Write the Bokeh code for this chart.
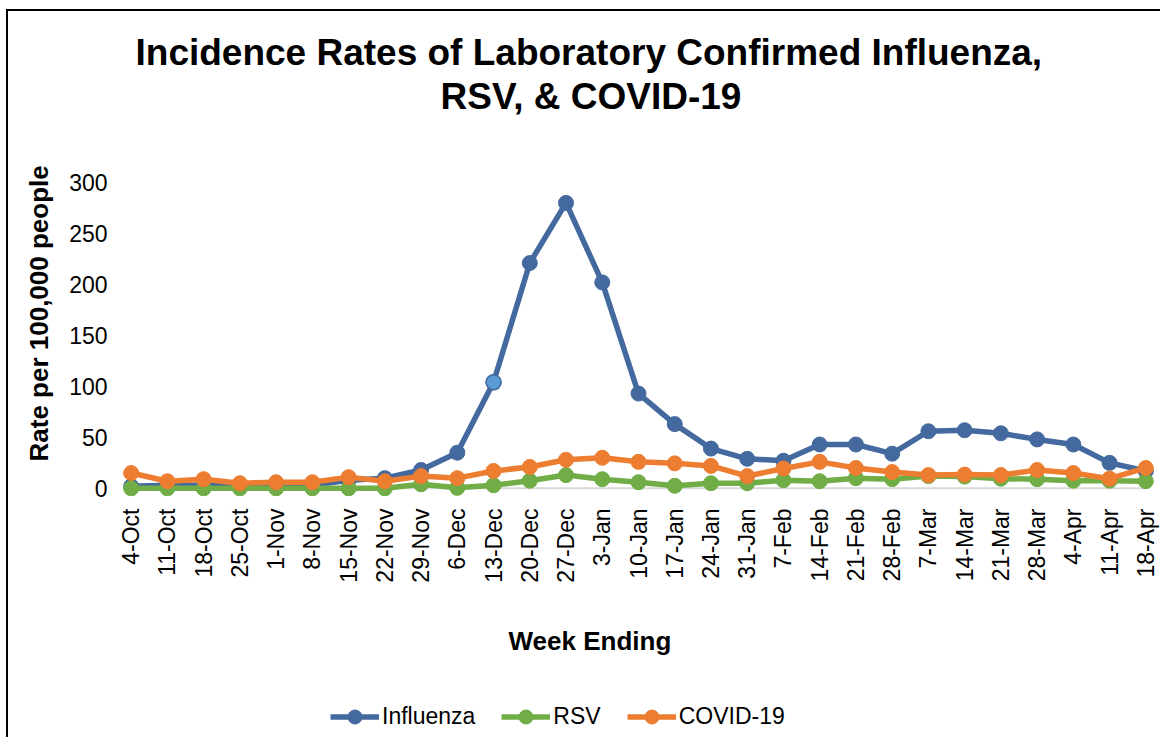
import math
from bokeh.plotting import figure
from bokeh.layouts import column
from bokeh.models import Range1d, FixedTicker, Title, Legend, LegendItem
from bokeh.embed import file_html
from bokeh.resources import INLINE

weeks = ["4-Oct", "11-Oct", "18-Oct", "25-Oct", "1-Nov", "8-Nov", "15-Nov", "22-Nov",
         "29-Nov", "6-Dec", "13-Dec", "20-Dec", "27-Dec", "3-Jan", "10-Jan", "17-Jan",
         "24-Jan", "31-Jan", "7-Feb", "14-Feb", "21-Feb", "28-Feb", "7-Mar", "14-Mar",
         "21-Mar", "28-Mar", "4-Apr", "11-Apr", "18-Apr"]
influenza = [2, 3, 3, 2, 3, 3, 8, 10, 18, 35, 104, 221, 280, 202, 93, 63, 39, 29, 27,
             43, 43, 34, 56, 57, 54, 48, 43, 25, 17]
rsv = [0, 0, 0, 0, 0, 0, 0, 0, 4, 0.5, 3, 7.5, 13, 9, 6, 2.5, 5, 5, 8, 7, 10, 9, 12,
       11.5, 9.5, 9, 7.5, 7.5, 7]
covid = [15, 7, 9, 5, 6, 6, 11, 7, 12, 10, 17, 21, 28, 30, 26, 24.5, 22, 12, 19.5, 26,
         20, 16, 13, 13.5, 13, 18, 15, 9.5, 20]
y_ticks = [0, 50, 100, 150, 200, 250, 300]
highlight_week = "13-Dec"

series_names = ["Influenza", "RSV", "COVID-19"]
series_colors = ["#43699E", "#70AD47", "#ED7D31"]
highlight_color = "#5B9BD5"

FONT = "Liberation Sans"
x = list(range(len(weeks)))

p = figure(frame_width=1040, frame_height=314, output_backend="svg", toolbar_location=None,
           x_range=Range1d(-0.35, len(weeks) - 1 + 0.35),
           y_range=Range1d(-8, y_ticks[-1]),
           min_border_left=0, min_border_right=2,
           min_border_top=171, min_border_bottom=0)
p.outline_line_color = None
p.xgrid.visible = False
p.ygrid.visible = False

p.xaxis.ticker = FixedTicker(ticks=x)
p.xaxis.major_label_overrides = {i: w for i, w in enumerate(weeks)}
p.xaxis.major_label_orientation = math.pi / 2
p.xaxis.axis_line_color = None
p.xaxis.major_tick_line_color = None
p.xaxis.minor_tick_line_color = None
p.xaxis.major_label_standoff = 6
p.xaxis.major_label_text_font = FONT
p.xaxis.major_label_text_font_size = "23px"
p.xaxis.major_label_text_color = "black"

p.yaxis.ticker = FixedTicker(ticks=y_ticks)
p.yaxis.axis_line_color = None
p.yaxis.major_tick_line_color = None
p.yaxis.minor_tick_line_color = None
p.yaxis.major_label_standoff = 5
p.yaxis.major_label_text_font = FONT
p.yaxis.major_label_text_font_size = "23px"
p.yaxis.major_label_text_color = "black"

# category axis baseline
p.line(x=[x[0], x[-1]], y=[y_ticks[0], y_ticks[0]], line_color="#D9D9D9", line_width=2)

for name, vals, color in zip(series_names, [influenza, rsv, covid], series_colors):
    p.line(x, vals, line_color=color, line_width=5.5)
    p.scatter(x, vals, size=15, fill_color=color, line_color=color)
    if name == "Influenza":
        hi = weeks.index(highlight_week)
        p.scatter([x[hi]], [vals[hi]], size=15, fill_color=highlight_color,
                  line_color=color, line_width=1.5)

# spacer between frame and title, then the two title lines
p.add_layout(Title(text=" ", standoff=52, text_font=FONT, text_font_size="10px"), "above")
p.add_layout(Title(text="RSV, & COVID-19", align="left", offset=322, standoff=2,
                   text_font=FONT, text_font_size="37px", text_font_style="bold",
                   text_color="black"), "above")
p.add_layout(Title(text="Incidence Rates of Laboratory Confirmed Influenza,", align="left",
                   offset=17, standoff=0, text_font=FONT, text_font_size="37px",
                   text_font_style="bold", text_color="black"), "above")

p.add_layout(Title(text="Rate per 100,000 people", align="left", offset=35, standoff=26,
                   text_font=FONT, text_font_size="26px", text_font_style="bold",
                   text_color="black"), "left")

p.add_layout(Title(text="Week Ending", align="left", offset=390, standoff=76,
                   text_font=FONT, text_font_size="26px", text_font_style="bold",
                   text_color="black"), "below")

# legend strip: same series drawn outside its visible range, legend inside its frame
q = figure(frame_width=1040, frame_height=44, output_backend="svg", toolbar_location=None,
           x_range=Range1d(-10, -9), y_range=Range1d(0, 1),
           x_axis_type=None, y_axis_type=None,
           min_border_left=110, min_border_right=2, min_border_top=0, min_border_bottom=0)
q.outline_line_color = None
q.xgrid.visible = False
q.ygrid.visible = False
items = []
for name, vals, color in zip(series_names, [influenza, rsv, covid], series_colors):
    rl = q.line(x, vals, line_color=color, line_width=5.5)
    rs = q.scatter(x, vals, size=15, fill_color=color, line_color=color)
    items.append(LegendItem(label=name, renderers=[rl, rs]))

legend = Legend(items=items, orientation="horizontal", location=(212, 3),
                label_text_font=FONT, label_text_font_size="23px", label_text_color="black",
                glyph_width=49, glyph_height=35, label_standoff=3, spacing=26,
                border_line_color=None, background_fill_alpha=0, padding=3, margin=0)
q.add_layout(legend, "center")

lay = column(p, q, spacing=0)
lay.styles = {"border-left": "2px solid black", "border-top": "2px solid black",
              "margin-left": "6px", "margin-top": "9px"}

open("out.html", "w").write(file_html(lay, INLINE))
